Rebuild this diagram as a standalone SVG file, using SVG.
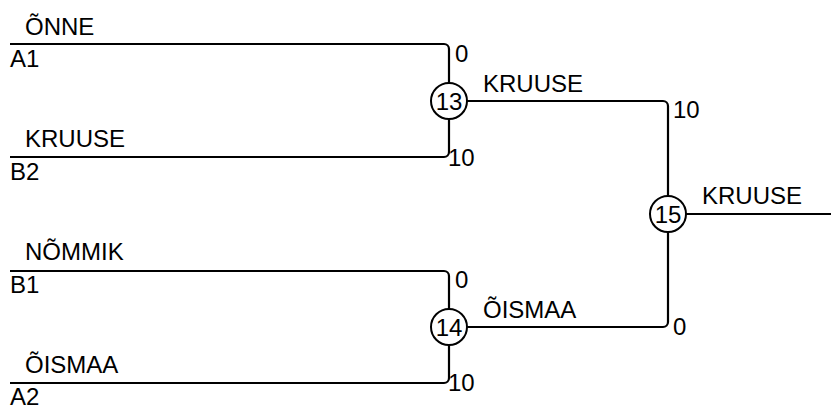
<svg xmlns="http://www.w3.org/2000/svg" width="831" height="405" viewBox="0 0 831 405">
<style>
.l{fill:none;stroke:#000;stroke-width:2.2}
.c{fill:#fff;stroke:#000;stroke-width:2}
text{font-family:"Liberation Sans",Arial,sans-serif;font-size:24px;fill:#000}
.n{text-anchor:middle}
</style>
<rect width="831" height="405" fill="#fff"/>
<g id="connectors">
<path class="l" d="M10,44 H444 A5,5 0 0 1 449,49 V83"/>
<path class="l" d="M10,157 H444 A5,5 0 0 0 449,152 V119"/>
<path class="l" d="M10,271 H444 A5,5 0 0 1 449,276 V309"/>
<path class="l" d="M10,383 H444 A5,5 0 0 0 449,378 V345"/>
<path class="l" d="M467,101 H663 A5,5 0 0 1 668,106 V196"/>
<path class="l" d="M467,327 H663 A5,5 0 0 0 668,322 V232"/>
<path class="l" d="M686,214 H831"/>
</g>
<g id="team-A1"><text x="25" y="35">ÕNNE</text><text x="10" y="67">A1</text></g>
<g id="team-B2"><text x="25" y="147">KRUUSE</text><text x="10" y="180">B2</text></g>
<g id="team-B1"><text x="25" y="260">NÕMMIK</text><text x="10" y="293">B1</text></g>
<g id="team-A2"><text x="25" y="373">ÕISMAA</text><text x="10" y="405">A2</text></g>
<g id="node-13"><circle class="c" cx="449" cy="101" r="18"/><text class="n" x="449" y="109.5">13</text><text x="455" y="62">0</text><text x="448" y="166">10</text><text x="483" y="92">KRUUSE</text></g>
<g id="node-14"><circle class="c" cx="449" cy="327" r="18"/><text class="n" x="449" y="335.5">14</text><text x="455" y="288">0</text><text x="448" y="391">10</text><text x="483" y="318">ÕISMAA</text></g>
<g id="node-15"><circle class="c" cx="668" cy="214" r="18"/><text class="n" x="668" y="222.5">15</text><text x="673" y="118">10</text><text x="673" y="335">0</text><text x="702" y="204">KRUUSE</text></g>
</svg>
